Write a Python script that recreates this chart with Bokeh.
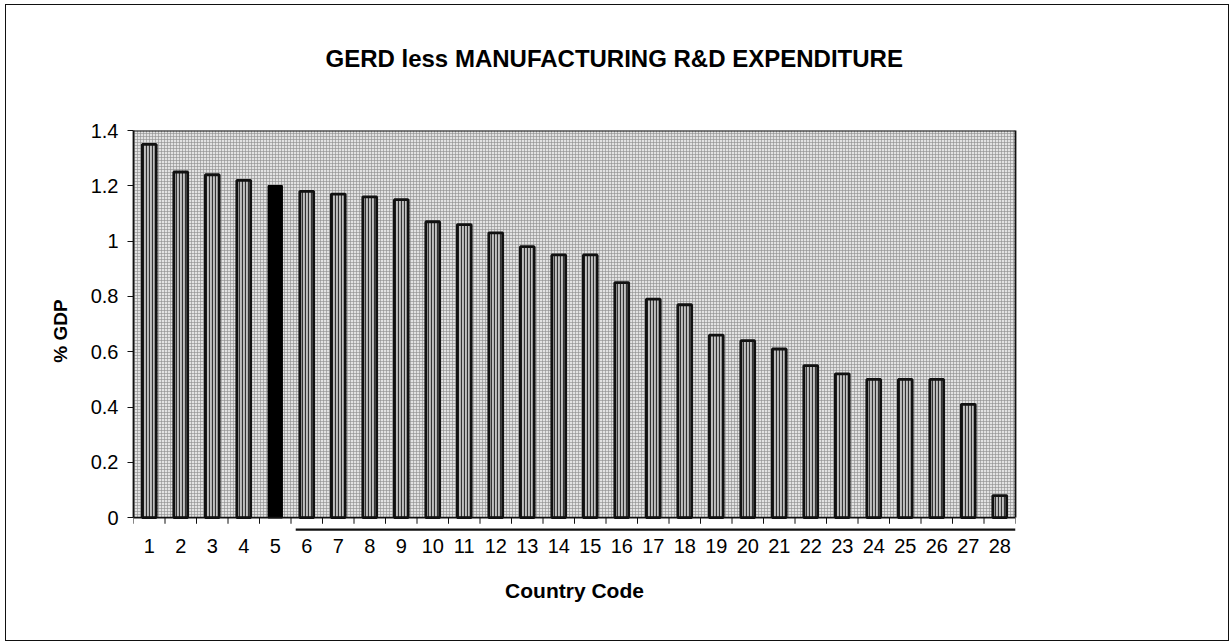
from bokeh.plotting import figure
from bokeh.models import Range1d, LinearAxis, FixedTicker, Title
from bokeh.embed import file_html
from bokeh.resources import INLINE

# ---- data ----
country_codes = list(range(1, 29))
gdp_share = [1.35, 1.25, 1.24, 1.22, 1.20, 1.18, 1.17, 1.16, 1.15, 1.07,
             1.06, 1.03, 0.98, 0.95, 0.95, 0.85, 0.79, 0.77, 0.66, 0.64,
             0.61, 0.55, 0.52, 0.50, 0.50, 0.50, 0.41, 0.08]
highlight_code = 5
y_ticks = [0, 0.2, 0.4, 0.6, 0.8, 1.0, 1.2, 1.4]
y_tick_labels = ["0", "0.2", "0.4", "0.6", "0.8", "1", "1.2", "1.4"]
title_text = "GERD less MANUFACTURING R&D EXPENDITURE"
x_label = "Country Code"
y_label = "% GDP"

FONT = "Liberation Sans"
x_lo, x_hi = 0.5, len(country_codes) + 0.5
y_lo, y_hi = 0.0, 1.4
y_pad = -0.05          # frame extends a little below zero for the underline
tick_len = 0.022       # x tick length (data units)
underline_x0, underline_y = 5.65, -0.043

p = figure(width=1222, height=635, output_backend="svg", toolbar_location=None,
           x_range=Range1d(x_lo, x_hi), y_range=Range1d(y_pad, y_hi),
           min_border_left=127, min_border_right=213,
           min_border_top=125, min_border_bottom=109,
           background_fill_color="white", border_fill_color="white")
p.styles = {"margin-left": "6px", "margin-top": "5px",
            "outline": "1.5px solid #111", "outline-offset": "0px"}
p.outline_line_color = None
p.grid.visible = False

# title (a blank second line lifts it higher above the plot area)
p.title = Title(text=title_text + "\n", align="left", offset=192, standoff=64,
                text_font=FONT, text_font_size="24px", text_font_style="bold",
                text_color="black")

# dotted plot-area background
p.quad(left=[x_lo], right=[x_hi], bottom=[y_lo], top=[y_hi],
       fill_color="#e2e2e2", line_color=None,
       hatch_pattern="cross", hatch_color="#8c8c8c", hatch_scale=3, hatch_weight=0.6)

# bars
normal_x = [c for c in country_codes if c != highlight_code]
normal_y = [v for c, v in zip(country_codes, gdp_share) if c != highlight_code]
p.vbar(x=normal_x, top=normal_y, bottom=0, width=0.44,
       fill_color="#c0c0c0", line_color="#111111", line_width=2.8,
       hatch_pattern="vertical_line", hatch_color="#333333", hatch_scale=3, hatch_weight=1.2)
hi_idx = country_codes.index(highlight_code)
p.vbar(x=[highlight_code], top=[gdp_share[hi_idx]], bottom=0, width=0.44,
       fill_color="black", line_color="black", line_width=1.5)

# plot-area top edge and x axis baseline with category-boundary ticks
p.segment(x0=[x_lo], y0=[y_hi], x1=[x_hi], y1=[y_hi], line_color="#111", line_width=2)
p.segment(x0=[x_lo], y0=[y_lo], x1=[x_hi], y1=[y_lo], line_color="#111", line_width=1.6)
bounds = [c - 0.5 for c in country_codes] + [x_hi]
p.segment(x0=bounds, y0=[y_lo] * len(bounds), x1=bounds,
          y1=[y_lo - tick_len] * len(bounds), line_color="#111", line_width=1)

# underline below the axis (codes 6..28)
p.segment(x0=[underline_x0], y0=[underline_y], x1=[x_hi], y1=[underline_y],
          line_color="#111", line_width=2.2)

# x axis: labels only
xa = p.xaxis[0]
xa.ticker = FixedTicker(ticks=country_codes, minor_ticks=[])
xa.major_tick_out = 0
xa.major_tick_in = 0
xa.axis_line_color = None
xa.major_label_standoff = 7
xa.major_label_text_font = FONT
xa.major_label_text_font_size = "20px"
xa.major_label_text_color = "black"
xa.axis_label = x_label
xa.axis_label_standoff = 23
xa.axis_label_text_font = FONT
xa.axis_label_text_font_size = "21px"
xa.axis_label_text_font_style = "bold"
xa.axis_label_text_color = "black"

# y axis
ya = p.yaxis[0]
ya.bounds = (y_lo, y_hi)
ya.ticker = FixedTicker(ticks=y_ticks, minor_ticks=[])
ya.major_label_overrides = {t: l for t, l in zip(y_ticks, y_tick_labels)}
ya.major_tick_out = 6
ya.major_tick_in = 0
ya.major_tick_line_color = "#111"
ya.axis_line_color = "#111"
ya.axis_line_width = 1.8
ya.major_label_standoff = 9
ya.major_label_text_font = FONT
ya.major_label_text_font_size = "20px"
ya.major_label_text_color = "black"
ya.axis_label = y_label
ya.axis_label_standoff = 17
ya.axis_label_text_font = FONT
ya.axis_label_text_font_size = "19px"
ya.axis_label_text_font_style = "bold"
ya.axis_label_text_color = "black"

# right edge of the plot area
right_ax = LinearAxis(ticker=FixedTicker(ticks=[]), bounds=(y_lo, y_hi),
                      axis_line_color="#111", axis_line_width=1.8,
                      major_tick_out=0, minor_tick_out=0)
p.add_layout(right_ax, "right")

open("out.html", "w").write(file_html(p, INLINE))
